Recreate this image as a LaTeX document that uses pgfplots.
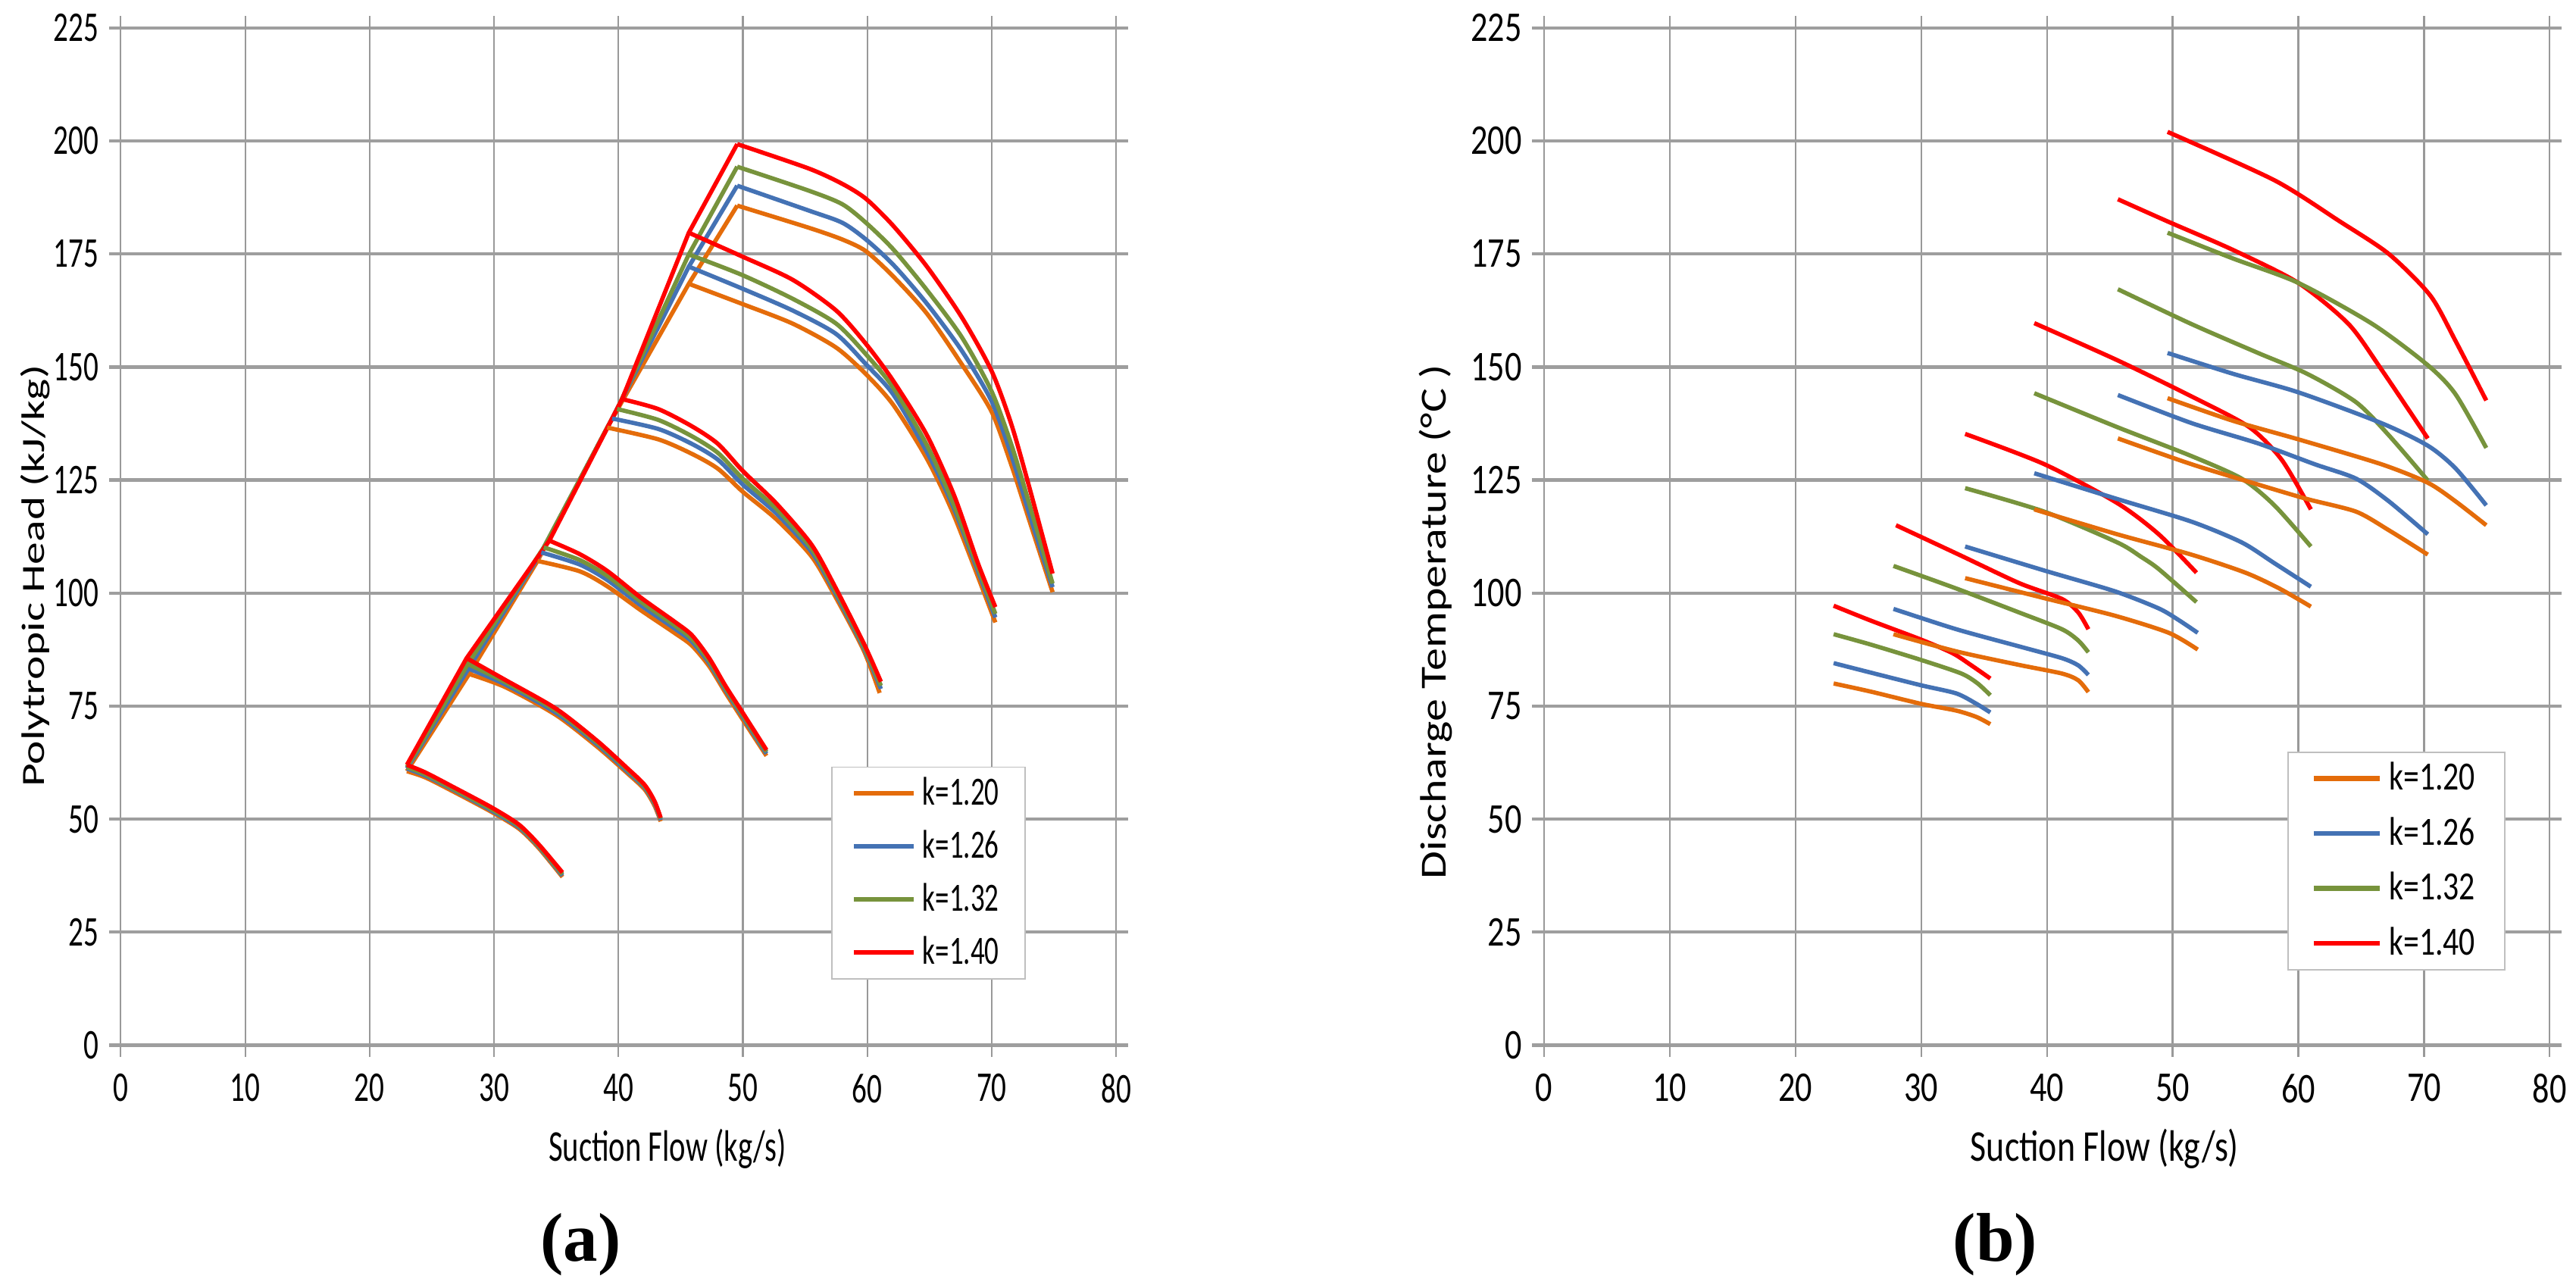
\documentclass[border=0pt]{standalone}
\usepackage{pgfplots}
\pgfplotsset{compat=1.18}
\usepackage{fontspec}
\newfontfamily\carl[FakeStretch=0.70]{Carlito}
\newfontfamily\carlB[FakeStretch=0.79]{Carlito}
\newfontfamily\carlN{Carlito}
\newfontfamily\serifb{Liberation Serif}
\definecolor{cOr}{RGB}{228,108,10}
\definecolor{cBl}{RGB}{68,114,180}
\definecolor{cGr}{RGB}{119,147,60}
\definecolor{cRd}{RGB}{255,0,0}
\pgfplotsset{
  sp/.style={line width=1.3pt, smooth, tension=0.45, forget plot},
  surge/.style={line width=1.3pt, forget plot},
  base/.style={
    scale only axis, anchor=south west,
    xmin=0, xmax=80, ymin=0, ymax=225,
    xtick={0,10,...,80}, ytick={0,25,...,225},
    grid=major,
    axis line style={draw=none},
    x grid style={color=black!40, line width=0.5pt},
    y grid style={color=black!38, line width=1pt},
    xtick style={color=black!40, line width=0.5pt},
    ytick style={color=black!38, line width=1pt},
    tick align=outside, major tick length=3.6pt,
    /pgf/number format/assume math mode=true,
    xticklabel style={anchor=north, inner sep=0pt, yshift=-5pt},
    yticklabel style={anchor=east, inner sep=0pt, xshift=-3pt},
    legend cell align=left,
    legend style={draw=black!25, fill=white, anchor=north east,
      inner ysep=1pt, row sep=2.2pt},
  }
}
\begin{document}
\begin{tikzpicture}
\path[use as bounding box] (0,0) rectangle (785pt,391.35pt);
% ---------------- (a) ----------------
\begin{axis}[base, at={(36.8pt,72.85pt)}, width=303.3pt, height=310pt,
  ticklabel style={font=\carl\fontsize{12.9}{13}\selectfont},
  legend image code/.code={\draw[line width=1.5pt] (0pt,0pt) -- (18.2pt,0pt);},
  legend style={at={(0.9095,0.274)}, font=\carl\fontsize{12.2}{13}\selectfont,
    inner xsep=6pt}]
% surge lines
\addplot[surge, cOr] coordinates {(23.0,60.6)(28.0,82.1)(33.5,107.1)(39.1,136.6)(45.66,168.4)(49.55,185.7)};
\addplot[surge, cBl] coordinates {(23.0,61.2)(27.95,83.3)(33.8,109.0)(39.5,138.6)(45.66,172.2)(49.55,190.1)};
\addplot[surge, cGr] coordinates {(23.0,61.5)(27.9,84.3)(34.0,110.1)(39.9,140.7)(45.66,174.9)(49.55,194.3)};
\addplot[surge, cRd] coordinates {(23.0,62.0)(27.8,85.6)(34.45,111.6)(40.3,142.9)(45.66,179.7)(49.55,199.3)};
% speed 1
\addplot[sp, cOr] coordinates {(23.0,60.6)(24.5,59.2)(26.8,56.0)(29.8,51.6)(32.0,47.9)(33.6,43.6)(35.5,37.2)};
\addplot[sp, cBl] coordinates {(23.0,61.2)(24.5,59.6)(26.8,56.4)(29.8,51.9)(32.0,48.2)(33.6,43.9)(35.5,37.5)};
\addplot[sp, cGr] coordinates {(23.0,61.5)(24.5,59.9)(26.8,56.6)(29.8,52.2)(32.0,48.5)(33.6,44.1)(35.5,37.8)};
\addplot[sp, cRd] coordinates {(23.0,62.0)(24.5,60.3)(26.8,57.0)(29.8,52.6)(32.0,48.8)(33.6,44.4)(35.5,38.2)};
% speed 2
\addplot[sp, cOr] coordinates {(28.0,82.1)(30.9,79.2)(35.0,73.0)(38.3,66.0)(40.7,60.2)(42.1,56.6)(42.9,53.0)(43.4,49.5)};
\addplot[sp, cBl] coordinates {(27.95,83.3)(30.9,79.8)(35.0,73.5)(38.3,66.5)(40.7,60.6)(42.1,57.0)(42.9,53.4)(43.4,49.8)};
\addplot[sp, cGr] coordinates {(27.9,84.3)(30.9,80.3)(35.0,74.0)(38.3,66.9)(40.7,61.0)(42.1,57.3)(42.9,53.7)(43.4,50.1)};
\addplot[sp, cRd] coordinates {(27.8,85.6)(30.9,80.8)(35.0,74.4)(38.3,67.3)(40.7,61.3)(42.1,57.6)(42.9,54.0)(43.4,50.3)};
% speed 3
\addplot[sp, cOr] coordinates {(33.5,107.1)(36.9,104.8)(39.1,101.5)(41.8,96.2)(44.5,91.2)(45.9,88.4)(47.3,83.8)(48.6,78.0)(50.0,72.0)(51.9,64.0)};
\addplot[sp, cBl] coordinates {(33.8,109.0)(36.9,106.3)(39.1,102.9)(41.8,97.3)(44.5,92.2)(45.9,89.3)(47.3,84.5)(48.6,78.6)(50.0,72.6)(51.9,64.5)};
\addplot[sp, cGr] coordinates {(34.0,110.1)(36.9,107.3)(39.1,103.8)(41.8,98.1)(44.5,92.9)(45.9,89.9)(47.3,85.0)(48.6,79.0)(50.0,73.0)(51.9,64.9)};
\addplot[sp, cRd] coordinates {(34.45,111.6)(36.9,108.6)(39.1,104.9)(41.8,99.0)(44.5,93.7)(45.9,90.7)(47.3,85.6)(48.6,79.5)(50.0,73.5)(51.9,65.3)};
% speed 4
\addplot[sp, cOr] coordinates {(39.1,136.6)(43.2,134.0)(45.9,130.8)(48.0,127.5)(50.0,122.4)(52.7,116.3)(55.5,108.2)(57.3,99.9)(59.7,87.4)(61.0,77.9)};
\addplot[sp, cBl] coordinates {(39.5,138.6)(43.2,136.3)(45.9,133.0)(48.0,129.5)(50.0,124.0)(52.7,117.6)(55.5,109.2)(57.3,100.7)(59.7,88.0)(61.1,78.8)};
\addplot[sp, cGr] coordinates {(39.9,140.7)(43.2,138.3)(45.9,134.7)(48.0,131.0)(50.0,125.3)(52.7,118.6)(55.5,109.9)(57.3,101.3)(59.7,88.4)(61.1,79.5)};
\addplot[sp, cRd] coordinates {(40.3,142.9)(43.2,140.7)(45.9,136.9)(48.0,133.0)(50.0,127.0)(52.7,119.8)(55.5,110.8)(57.3,102.0)(59.7,89.0)(61.1,80.4)};
% speed 5
\addplot[sp, cOr] coordinates {(45.66,168.4)(49.9,164.0)(54.0,159.6)(57.5,154.3)(59.9,148.4)(62.1,141.6)(64.8,129.7)(67.0,117.0)(70.3,93.5)};
\addplot[sp, cBl] coordinates {(45.66,172.2)(49.9,167.4)(54.0,162.5)(57.5,157.3)(59.9,150.6)(62.1,143.9)(64.8,131.2)(67.0,118.5)(70.3,94.6)};
\addplot[sp, cGr] coordinates {(45.66,174.9)(49.9,170.4)(54.0,165.1)(57.5,159.6)(59.9,152.8)(62.1,145.4)(64.8,132.7)(67.0,119.3)(70.3,95.4)};
\addplot[sp, cRd] coordinates {(45.66,179.7)(49.9,174.5)(54.0,169.3)(57.5,162.5)(59.9,155.1)(62.1,146.9)(64.8,134.9)(67.0,121.5)(68.9,106.6)(70.3,96.9)};
% speed 6
\addplot[sp, cOr] coordinates {(49.55,185.7)(55.3,180.8)(58.0,178.2)(59.9,175.6)(62.1,170.0)(64.8,161.8)(67.6,150.6)(70.0,140.1)(71.6,128.2)(73.0,116.3)(74.9,100.2)};
\addplot[sp, cBl] coordinates {(49.55,190.1)(55.3,184.6)(58.0,181.9)(59.9,178.2)(62.1,172.6)(64.8,164.0)(67.6,153.6)(70.0,142.4)(71.6,130.4)(73.0,117.8)(74.9,101.3)};
\addplot[sp, cGr] coordinates {(49.55,194.3)(55.3,189.0)(58.0,186.0)(59.9,181.9)(62.1,176.0)(64.8,167.0)(67.6,156.6)(70.0,144.6)(71.6,132.7)(73.0,120.0)(74.9,102.1)};
\addplot[sp, cRd] coordinates {(49.55,199.3)(55.3,193.9)(58.0,190.5)(59.9,187.2)(62.1,181.2)(64.8,172.2)(67.6,161.0)(70.0,149.1)(71.6,137.2)(73.0,123.7)(74.9,104.3)};
\addlegendimage{cOr}\addlegendentry{k=1.20}
\addlegendimage{cBl}\addlegendentry{k=1.26}
\addlegendimage{cGr}\addlegendentry{k=1.32}
\addlegendimage{cRd}\addlegendentry{k=1.40}
\end{axis}
% ---------------- (b) ----------------
\begin{axis}[base, at={(470.5pt,72.85pt)}, width=306.5pt, height=310pt,
  ticklabel style={font=\carlB\fontsize{12.9}{13}\selectfont},
  legend image code/.code={\draw[line width=1.5pt] (0pt,0pt) -- (20.2pt,0pt);},
  legend style={at={(0.956,0.2887)}, font=\carlB\fontsize{12.2}{13}\selectfont,
    inner xsep=7pt, row sep=2.8pt}]
% speed 1
\addplot[sp, cOr] coordinates {(23.04,80.0)(26,78.2)(30,75.5)(32.8,74.0)(34.4,72.6)(35.5,71.0)};
\addplot[sp, cBl] coordinates {(23.04,84.5)(26,82.4)(30,79.6)(32.8,77.8)(34.4,75.5)(35.5,73.6)};
\addplot[sp, cGr] coordinates {(23.04,90.9)(26,88.6)(30,85.2)(33.2,82.2)(34.5,80.0)(35.5,77.4)};
\addplot[sp, cRd] coordinates {(23.04,97.2)(26,93.9)(30,89.7)(32.5,86.7)(34.0,84.0)(35.5,81.1)};
% speed 2
\addplot[sp, cOr] coordinates {(27.8,90.9)(32.8,87.1)(37.8,84.1)(41.2,82.2)(42.5,80.7)(43.3,78.1)};
\addplot[sp, cBl] coordinates {(27.8,96.5)(32.8,92.0)(37.8,88.2)(41.2,85.6)(42.5,84.0)(43.3,81.9)};
\addplot[sp, cGr] coordinates {(27.8,106.0)(32.8,101.0)(37.8,95.7)(41.2,92.0)(42.5,89.5)(43.3,86.9)};
\addplot[sp, cRd] coordinates {(28.0,115.0)(33.0,108.5)(37.8,102.2)(41.2,98.7)(42.5,95.7)(43.3,92.0)};
% speed 3
\addplot[sp, cOr] coordinates {(33.5,103.3)(39.9,98.8)(45.4,95.0)(49.7,91.2)(52.0,87.5)};
\addplot[sp, cBl] coordinates {(33.5,110.3)(39.9,104.9)(45.4,100.4)(48.9,96.6)(50.5,94.0)(52.0,91.2)};
\addplot[sp, cGr] coordinates {(33.5,123.2)(39.8,118.0)(45.6,111.2)(47.5,108.0)(48.9,105.3)(51.9,98.0)};
\addplot[sp, cRd] coordinates {(33.5,135.2)(39.8,128.5)(45.6,119.9)(48.9,113.0)(51.9,104.5)};
% speed 4
\addplot[sp, cOr] coordinates {(39.0,118.5)(45.6,113.0)(51.5,108.5)(55.8,104.5)(58.5,101.0)(61.0,97.0)};
\addplot[sp, cBl] coordinates {(39.0,126.5)(45.6,120.8)(51.5,115.8)(55.5,111.2)(58.1,106.6)(61.0,101.4)};
\addplot[sp, cGr] coordinates {(39.0,144.2)(45.6,136.7)(51.5,130.3)(55.5,125.3)(58.1,119.4)(61.0,110.3)};
\addplot[sp, cRd] coordinates {(39.0,159.7)(45.6,151.5)(51.5,143.5)(56.1,136.7)(58.7,129.4)(61.0,118.5)};
% speed 5
\addplot[sp, cOr] coordinates {(45.65,134.2)(51.5,128.5)(56.8,124.0)(60.7,120.8)(64.6,118.0)(67.2,113.9)(70.3,108.5)};
\addplot[sp, cBl] coordinates {(45.65,143.8)(51.5,137.6)(56.8,133.1)(61.3,128.5)(64.6,125.3)(67.2,120.3)(70.3,113.0)};
\addplot[sp, cGr] coordinates {(45.65,167.2)(51.5,159.5)(56.8,153.1)(60.7,148.5)(64.6,142.2)(67.2,134.9)(70.3,124.9)};
\addplot[sp, cRd] coordinates {(45.65,187.1)(49.6,182.2)(54.8,175.9)(60.0,168.6)(64.0,159.5)(66.6,149.5)(70.3,134.2)};
% speed 6
\addplot[sp, cOr] coordinates {(49.6,143.1)(54.8,138.1)(60.0,134.0)(66.6,128.5)(70.3,124.4)(72.5,120.3)(74.95,115.0)};
\addplot[sp, cBl] coordinates {(49.6,153.1)(54.8,148.5)(60.0,144.4)(66.6,137.6)(70.3,132.6)(72.5,127.6)(74.95,119.4)};
\addplot[sp, cGr] coordinates {(49.6,179.7)(54.8,174.0)(60.0,168.6)(65.9,159.5)(70.3,150.4)(72.5,144.0)(74.95,132.1)};
\addplot[sp, cRd] coordinates {(49.6,202.0)(58.1,191.3)(63.3,182.2)(67.2,175.0)(70.5,165.8)(72.5,155.8)(74.95,142.6)};
\addlegendimage{cOr}\addlegendentry{k=1.20}
\addlegendimage{cBl}\addlegendentry{k=1.26}
\addlegendimage{cGr}\addlegendentry{k=1.32}
\addlegendimage{cRd}\addlegendentry{k=1.40}
\end{axis}
% labels
\node[font=\carl\fontsize{13.4}{14}\selectfont, inner sep=0pt, anchor=base west] at (167pt,37.55pt) {Suction Flow (kg/s)};
\node[font=\carlB\fontsize{13.4}{14}\selectfont, inner sep=0pt, anchor=base west] at (600.3pt,37.55pt) {Suction Flow (kg/s)};
\node[inner sep=0pt, rotate=90] at (10.75pt,215.8pt) {\scalebox{1}[0.72]{\carlN\fontsize{13.75}{15}\selectfont Polytropic Head (kJ/kg)}};
\node[inner sep=0pt, rotate=90] at (437.5pt,201.85pt) {\scalebox{1}[0.81]{\carlN\fontsize{13.85}{15}\selectfont Discharge Temperature (°C )}};
\node[font=\serifb\bfseries\fontsize{21}{24}\selectfont, inner sep=0pt, anchor=base] at (177pt,6.95pt) {(a)};
\node[font=\serifb\bfseries\fontsize{21}{24}\selectfont, inner sep=0pt, anchor=base] at (608pt,6.95pt) {(b)};
\end{tikzpicture}
\end{document}
